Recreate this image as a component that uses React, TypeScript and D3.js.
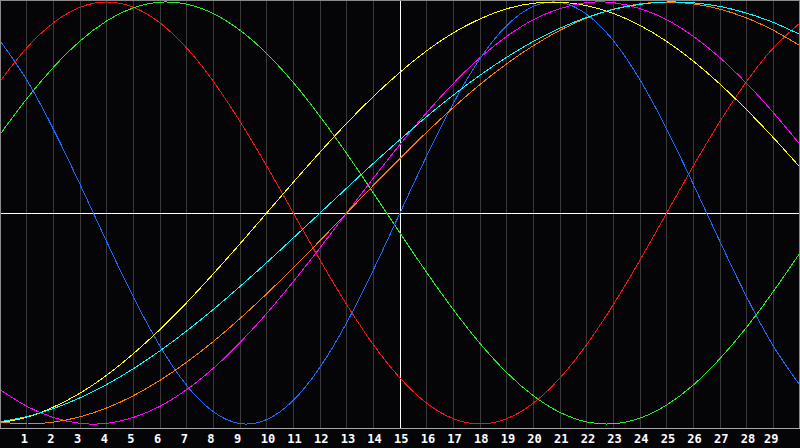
import React from "react";
import * as d3 from "d3";

// Days shown on the x axis (0..30), labels 1..29
const days: number[] = d3.range(0, 31);
const tickLabels: number[] = d3.range(1, 30);
const centerDay = 15;

// Values at each day (-1 .. 1)
const physical = [0.817, 0.631, 0.398, 0.136, -0.136, -0.398, -0.631, -0.817, -0.942, -0.998, -0.979, -0.888, -0.731, -0.52, -0.27, 0, 0.27, 0.52, 0.731, 0.888, 0.979, 0.998, 0.942, 0.817, 0.631, 0.398, 0.136, -0.136, -0.398, -0.631, -0.817];
const emotional = [0.624, 0.782, 0.901, 0.975, 1, 0.975, 0.901, 0.782, 0.624, 0.434, 0.223, 0, -0.223, -0.434, -0.624, -0.782, -0.901, -0.975, -1, -0.975, -0.901, -0.782, -0.624, -0.434, -0.223, 0, 0.223, 0.434, 0.624, 0.782, 0.901];
const intellectual = [0.372, 0.541, 0.69, 0.815, 0.91, 0.972, 0.999, 0.99, 0.945, 0.866, 0.756, 0.618, 0.458, 0.282, 0.095, -0.095, -0.282, -0.458, -0.618, -0.756, -0.866, -0.945, -0.99, -0.999, -0.972, -0.91, -0.815, -0.69, -0.541, -0.372, -0.189];
const aesthetic = [-0.994, -0.968, -0.92, -0.854, -0.769, -0.667, -0.552, -0.425, -0.288, -0.146, 0, 0.146, 0.288, 0.425, 0.552, 0.667, 0.769, 0.854, 0.92, 0.968, 0.994, 0.999, 0.983, 0.946, 0.889, 0.813, 0.72, 0.611, 0.489, 0.357, 0.217];
const intuitive = [-0.837, -0.916, -0.969, -0.997, -0.997, -0.969, -0.916, -0.837, -0.736, -0.614, -0.476, -0.325, -0.165, 0, 0.165, 0.325, 0.476, 0.614, 0.736, 0.837, 0.916, 0.969, 0.997, 0.997, 0.969, 0.916, 0.837, 0.736, 0.614, 0.476, 0.325];
const awareness = [-0.991, -1, -0.991, -0.966, -0.924, -0.866, -0.793, -0.707, -0.609, -0.5, -0.383, -0.259, -0.131, 0, 0.131, 0.259, 0.383, 0.5, 0.609, 0.707, 0.793, 0.866, 0.924, 0.966, 0.991, 1, 0.991, 0.966, 0.924, 0.866, 0.793];
const spiritual = [-0.989, -0.965, -0.927, -0.876, -0.813, -0.738, -0.653, -0.559, -0.457, -0.348, -0.235, -0.118, 0, 0.118, 0.235, 0.348, 0.457, 0.559, 0.653, 0.738, 0.813, 0.876, 0.927, 0.965, 0.989, 1, 0.996, 0.979, 0.947, 0.903, 0.846];

const seriesList = [
  { name: "emotional", values: emotional, color: "#ff1010" },
  { name: "intellectual", values: intellectual, color: "#22ee22" },
  { name: "physical", values: physical, color: "#1a6cff" },
  { name: "aesthetic", values: aesthetic, color: "#ffff00" },
  { name: "intuitive", values: intuitive, color: "#ff00ff" },
  { name: "awareness", values: awareness, color: "#ff7a00" },
  { name: "spiritual", values: spiritual, color: "#00ffff" },
];

const W = 800;
const H = 448;
const plotBottom = 428;

export default function App() {
  const x = d3.scaleLinear().domain([0, 30]).range([0, W]);
  const y = d3.scaleLinear().domain([-1, 1]).range([424, 2]);
  const line = (vals: number[]) =>
    d3
      .line<number>()
      .x((_, i) => x(days[i]))
      .y((v) => y(v))
      .curve(d3.curveNatural)(vals) as string;

  const px = (v: number) => Math.floor(v) + 0.5;

  return (
    <svg
      width={W}
      height={H}
      style={{ position: "fixed", left: 0, top: 0, display: "block", background: "#050508" }}
    >
      <rect x={0} y={0} width={W} height={H} fill="#050508" />
      {tickLabels.map((d) =>
        d === centerDay ? null : (
          <line
            key={"g" + d}
            x1={px(x(d))}
            x2={px(x(d))}
            y1={0}
            y2={plotBottom}
            stroke="#3a3a3a"
            strokeWidth={1}
            shapeRendering="crispEdges"
          />
        )
      )}
      <line x1={px(x(centerDay))} x2={px(x(centerDay))} y1={0} y2={plotBottom} stroke="#ffffff" shapeRendering="crispEdges" />
      <line x1={0} x2={W} y1={px(y(0))} y2={px(y(0))} stroke="#ffffff" shapeRendering="crispEdges" />
      {seriesList.map((s) => (
        <path
          key={s.name}
          d={line(s.values)}
          fill="none"
          stroke={s.color}
          strokeWidth={1}
          shapeRendering="crispEdges"
        />
      ))}
      <path
        d={`M0.5,${plotBottom + 0.5}V0.5H${W - 0.5}V${plotBottom + 0.5}`}
        fill="none"
        stroke="#8a8a8a"
        shapeRendering="crispEdges"
      />
      <line x1={0} x2={W} y1={plotBottom + 0.5} y2={plotBottom + 0.5} stroke="#a8a8a8" shapeRendering="crispEdges" />
      {tickLabels.map((d) => (
        <text
          key={"t" + d}
          x={Math.min(x(d) - 6, 764)}
          y={443}
          fill="#ffffff"
          fontFamily="'DejaVu Sans Mono', monospace"
          fontWeight="bold"
          fontSize={12}
          textAnchor="start"
        >
          {d}
        </text>
      ))}
    </svg>
  );
}
